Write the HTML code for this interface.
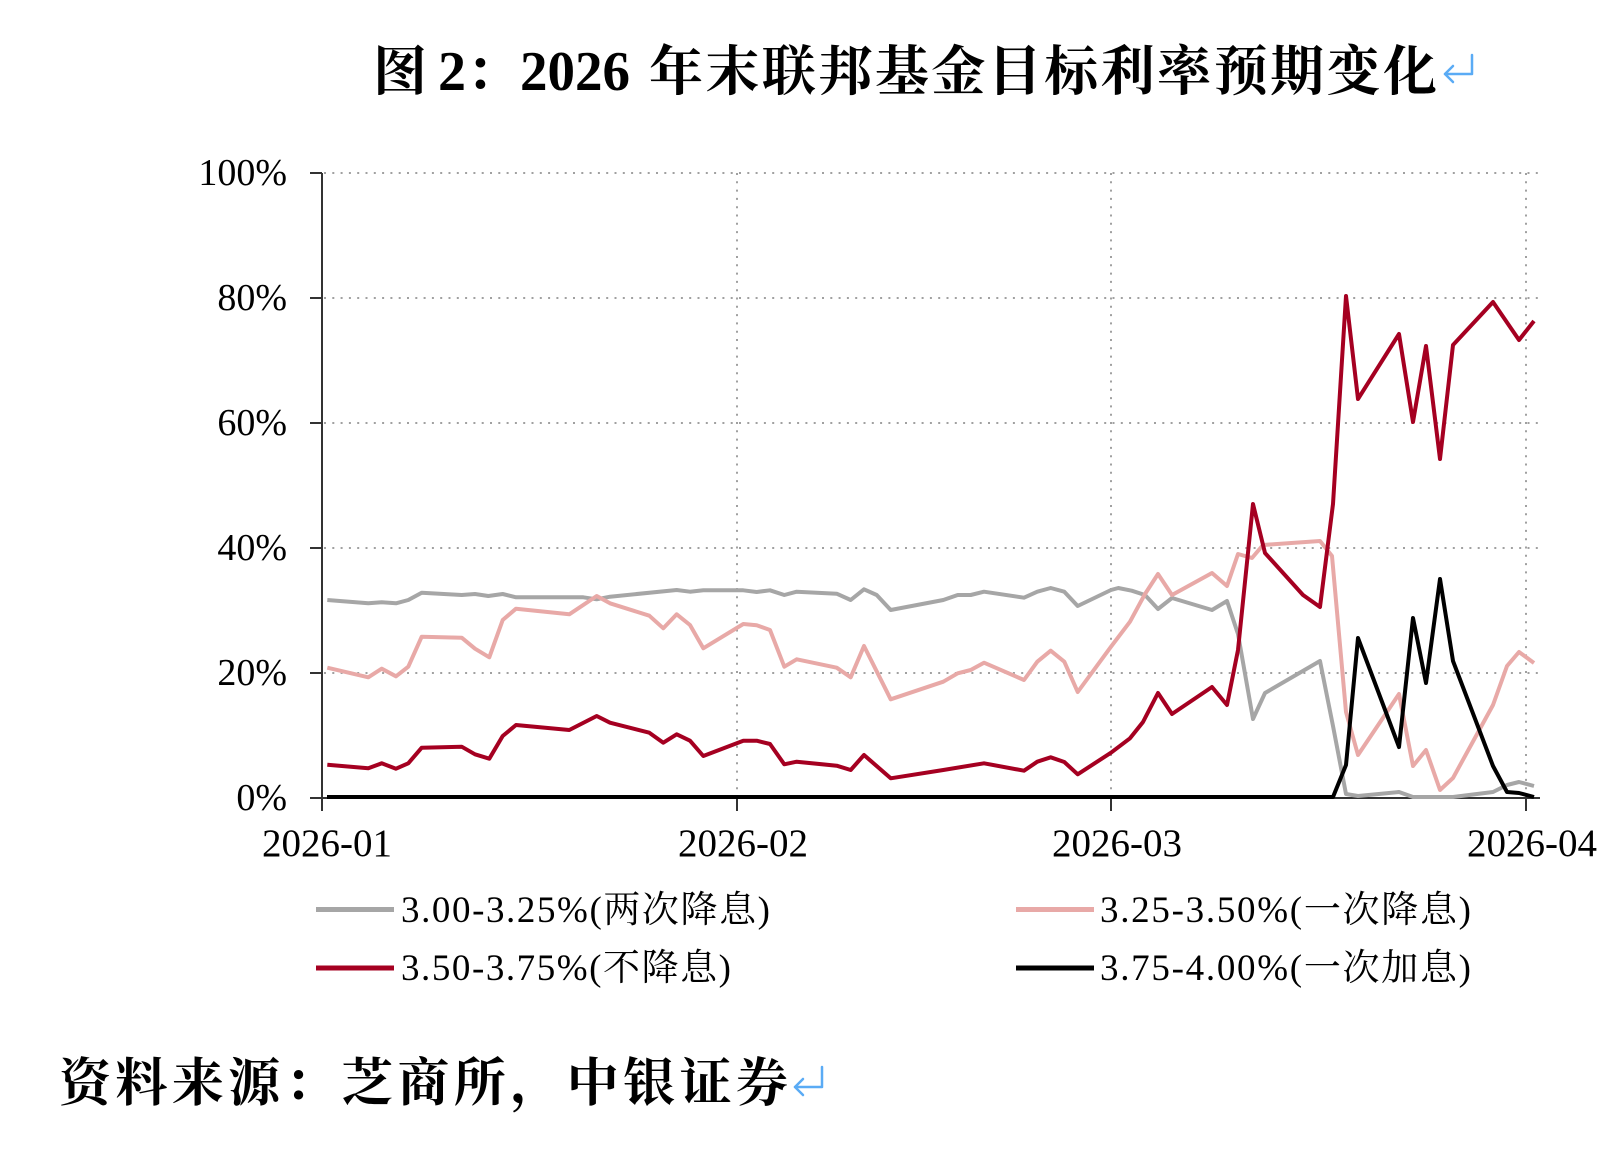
<!DOCTYPE html>
<html>
<head>
<meta charset="utf-8">
<style>
html,body{margin:0;padding:0;background:#fff;}
svg{display:block;}
.cjk{font-family:"Liberation Serif","Noto Serif CJK SC",serif;}
.lat{font-family:"Liberation Serif",serif;}
</style>
</head>
<body>
<svg width="1614" height="1156" viewBox="0 0 1614 1156" xmlns="http://www.w3.org/2000/svg">
<rect width="1614" height="1156" fill="#fff"/>

<!-- Title -->
<text class="cjk" x="373" y="90" font-size="54" font-weight="700" fill="#000">图</text>
<text class="lat" x="438" y="90" font-size="56" font-weight="700" fill="#000">2</text>
<text class="cjk" x="466" y="90" font-size="54" font-weight="700" fill="#000">：</text>
<text class="lat" x="520" y="90" font-size="56" font-weight="700" fill="#000" textLength="110" lengthAdjust="spacingAndGlyphs">2026</text>
<text class="cjk" x="649" y="90" font-size="54" font-weight="700" fill="#000" textLength="788" lengthAdjust="spacing">年末联邦基金目标利率预期变化</text>
<g stroke="#5aabf5" stroke-width="2.5" fill="none" stroke-linecap="round" stroke-linejoin="round">
  <path d="M1472,55 L1472,74 L1445,74"/>
  <path d="M1453,66 L1445,74 L1453,82"/>
</g>

<!-- Gridlines -->
<g stroke="#a0a0a0" stroke-width="2" stroke-dasharray="2,6.3" fill="none">
  <line x1="324" y1="173" x2="1540" y2="173"/>
  <line x1="324" y1="298" x2="1540" y2="298"/>
  <line x1="324" y1="423" x2="1540" y2="423"/>
  <line x1="324" y1="548" x2="1540" y2="548"/>
  <line x1="324" y1="673" x2="1540" y2="673"/>
  <line x1="737" y1="173" x2="737" y2="798"/>
  <line x1="1111" y1="173" x2="1111" y2="798"/>
  <line x1="1526" y1="173" x2="1526" y2="798"/>
</g>

<!-- Axes -->
<g stroke="#333" stroke-width="2" fill="none">
  <line x1="322" y1="173" x2="322" y2="811"/>
  <line x1="322" y1="798" x2="1540" y2="798"/>
  <line x1="310" y1="173" x2="322" y2="173"/>
  <line x1="310" y1="298" x2="322" y2="298"/>
  <line x1="310" y1="423" x2="322" y2="423"/>
  <line x1="310" y1="548" x2="322" y2="548"/>
  <line x1="310" y1="673" x2="322" y2="673"/>
  <line x1="310" y1="798" x2="322" y2="798"/>
  <line x1="737" y1="798" x2="737" y2="811"/>
  <line x1="1111" y1="798" x2="1111" y2="811"/>
  <line x1="1526" y1="798" x2="1526" y2="811"/>
</g>

<!-- Y labels -->
<g class="lat" font-size="38" fill="#000" text-anchor="end">
  <text x="287" y="185">100%</text>
  <text x="287" y="310">80%</text>
  <text x="287" y="435">60%</text>
  <text x="287" y="560">40%</text>
  <text x="287" y="685">20%</text>
  <text x="287" y="810">0%</text>
</g>

<!-- X labels -->
<g class="lat" font-size="39" fill="#000" text-anchor="middle">
  <text x="327" y="856">2026-01</text>
  <text x="743" y="856">2026-02</text>
  <text x="1117" y="856">2026-03</text>
  <text x="1532" y="856">2026-04</text>
</g>

<!-- Series -->
<g fill="none" stroke-width="4" stroke-linejoin="round" stroke-linecap="butt">
<polyline stroke="#a6a6a6" points="327.3,600 368.3,603.3 381.7,602.3 396,603.3 408.3,600 421.7,592.7 461.7,595 475,594 488.3,596 502.7,594 516,597.3 583.3,597.3 596.7,599.3 610,596.7 676.7,590 690,591.7 703.3,590.3 743.3,590.3 756.7,592 770,590.3 784.3,595 796.7,591.7 836.7,593.7 850.7,600 864,589.3 876.7,595 890.7,610 943.3,600 957.7,595 970.7,595 984,591.7 1024,597.7 1037.3,591.7 1050.7,588 1064.3,591.7 1077.7,606 1111,590 1118.3,588 1131.7,590.7 1145,595 1158,609 1172,598 1212,610 1227,601 1238,634 1253,719 1265,693 1320,661 1333,726 1346,794 1358,796 1399,792 1413,797 1453,797 1493,792 1507,785 1519,782 1534,786"/>
<polyline stroke="#e8a9a7" points="327.3,667.7 368.3,677.3 381.7,668.7 396,676.3 408.3,666.7 421.7,636.7 461.7,637.7 475,648.7 489.3,657.3 502.7,620 516,608.7 569.3,614.3 596.7,596 610,603.3 649.3,615.7 663.3,628.3 676.7,614.3 690,625 703.3,648.3 743.3,624 756.7,625.3 770,630 784.3,666.7 796.7,659.3 836.7,667.7 850.7,677.3 864,646 890.7,699.3 943.3,681.7 957.7,673.3 970.7,670 984,662.7 1024,680 1037.3,661.7 1050.7,650.7 1064.3,661.7 1077.7,692 1111,646.7 1130,621.7 1145,594 1158,574 1172,595 1212,573 1227,586 1238,554 1252,558 1263,545 1320,541 1332,556 1346,712 1358,755 1399,694 1413,766 1426,750 1440,790 1453,778 1493,705 1507,666 1519,652 1534,663"/>
<polyline stroke="#a50021" points="327.3,764.7 368.3,768.3 381.7,763.3 396,768.7 408.3,763.3 421.7,747.7 461.7,746.7 475,754.3 489.3,758.7 502.7,736 516,725 569.3,730 596.7,716 610,722.7 649.3,732.7 663.3,742.7 676.7,734.3 690,740.7 703.3,756 743.3,740.7 756.7,740.7 770,744 784.3,764.3 796.7,761.7 836.7,765.7 850.7,770 864,755 890.7,778.3 943.3,770 984,763.3 1024,770.7 1037.3,761.7 1050.7,757.3 1064.3,762 1077.7,774.3 1111,752.7 1130,738.3 1143,722 1158,693 1172,714 1212,687 1227,705 1238,650 1253,504 1265,553 1303,595 1320,607 1333,504 1346,296 1358,399 1399,334 1413,422 1426,346 1440,459 1453,345 1493,302 1519,340 1534,321"/>
<polyline stroke="#000" points="327,797 1333,797 1346,765 1358,638 1399,747 1413,618 1426,683 1440,579 1453,661 1493,766 1507,792 1519,793 1534,797"/>
</g>

<!-- Legend -->
<g stroke-width="5">
  <line x1="316" y1="909.5" x2="394" y2="909.5" stroke="#a6a6a6"/>
  <line x1="1016" y1="909.5" x2="1094" y2="909.5" stroke="#e8a9a7"/>
  <line x1="316" y1="968" x2="394" y2="968" stroke="#a50021"/>
  <line x1="1016" y1="968" x2="1094" y2="968" stroke="#000"/>
</g>
<g class="cjk" font-size="37" fill="#000">
  <text x="401" y="922" textLength="369" lengthAdjust="spacing">3.00-3.25%(两次降息)</text>
  <text x="1100" y="922" textLength="371" lengthAdjust="spacing">3.25-3.50%(一次降息)</text>
  <text x="401" y="980" textLength="330" lengthAdjust="spacing">3.50-3.75%(不降息)</text>
  <text x="1100" y="980" textLength="371" lengthAdjust="spacing">3.75-4.00%(一次加息)</text>
</g>

<!-- Footer -->
<text class="cjk" x="59" y="1101" font-size="52" font-weight="700" fill="#000" textLength="729" lengthAdjust="spacing">资料来源：芝商所，中银证券</text>
<g stroke="#5aabf5" stroke-width="2.5" fill="none" stroke-linecap="round" stroke-linejoin="round">
  <path d="M822,1067 L822,1087 L795,1087"/>
  <path d="M803,1079 L795,1087 L803,1095"/>
</g>
</svg>
</body>
</html>
